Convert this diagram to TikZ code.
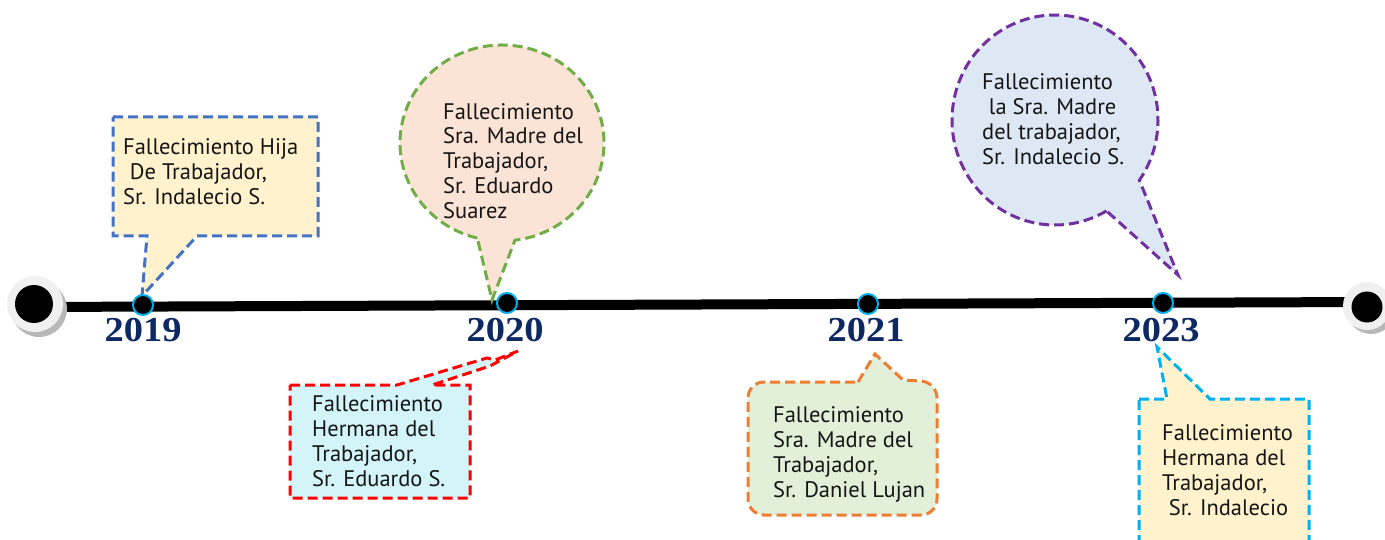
\documentclass[tikz,border=0pt]{standalone}
\usepackage{fontspec}
\setmainfont{PT Sans}
\newfontfamily\yearfont{Liberation Serif}
\definecolor{cblue}{HTML}{4472C4}
\definecolor{cgreen}{HTML}{70AD47}
\definecolor{cred}{HTML}{FF0000}
\definecolor{corange}{HTML}{ED7D31}
\definecolor{cpurple}{HTML}{7030A0}
\definecolor{ccyan}{HTML}{00B0F0}
\definecolor{fyellow}{HTML}{FFF2CC}
\definecolor{fpeach}{HTML}{FBE3D6}
\definecolor{fcyan}{HTML}{D3F5FA}
\definecolor{fgreen}{HTML}{E2F0D9}
\definecolor{fblue}{HTML}{DEE8F5}
\definecolor{navy}{HTML}{0E2862}
\definecolor{txtc}{HTML}{151515}
\begin{document}
\begin{tikzpicture}[x=1pt,y=-1pt,
  callout/.style={line width=3pt, dash pattern=on 10pt off 5pt},
  txt/.style={font=\fontsize{22.5}{25}\selectfont, text=txtc, align=left, inner sep=0pt, anchor=base west},
  year/.style={font=\yearfont\bfseries\fontsize{35}{35}\selectfont, text=navy, xscale=1.1, inner sep=0pt},
  marker/.style={circle, fill=black, draw=ccyan, line width=2pt, minimum size=20pt, inner sep=0pt},
]
\useasboundingbox (0,0) rectangle (1385,540);
\clip (0,0) rectangle (1385,540);

% timeline
\coordinate (lstart) at (35,307);
\coordinate (lend) at (1368,302);
\draw[line width=10pt] (lstart) -- (lend);

% end caps
\fill[black!28] (39,309) circle[radius=28];
\fill[black!6] (35,304) circle[radius=28];
\fill[black] (34,304) circle[radius=19];
\fill[black!28] (1371,310) circle[radius=24];
\fill[black!6] (1367,306) circle[radius=24];
\fill[black] (1367,307) circle[radius=15.5];

% callout 1 (2019 top)
\path[callout, draw=cblue, fill=fyellow] (113,117) -- (318,117) -- (318,236) -- (197,236) -- (142,296) -- (147,236) -- (113,236) -- cycle;
\node[txt] (t1) at (123,205) {Fallecimiento Hija\\\hspace*{0.3em}De Trabajador,\\Sr. Indalecio S.};

% callout 2 (2020 top)
\path[callout, draw=cgreen, fill=fpeach] (502,143) ++(104:102 and 98) arc[start angle=104, end angle=442.7, x radius=102, y radius=98] -- (492,300) -- cycle;
\node[txt] (t2) at (443,219) {Fallecimiento\\Sra. Madre del\\Trabajador,\\Sr. Eduardo\\Suarez};

% callout 3 (2020 bottom)
\path[callout, draw=cred, fill=fcyan] (290,385) -- (397,385) -- (487,358) -- (495,360) -- (518,351) -- (490,366) -- (432,385) -- (470,385) -- (470,498) -- (290,498) -- cycle;
\node[txt] (t3) at (312,486) {Fallecimiento\\Hermana del\\Trabajador,\\Sr. Eduardo S.};

% callout 4 (2021 bottom)
\path[callout, draw=corange, fill=fgreen] (858,382) -- (875,354) -- (903,380) [rounded corners=16] -- (937,382) -- (937,515) -- (748,515) -- (748,382) [sharp corners] -- cycle;
\node[txt] (t4) at (773,497) {Fallecimiento\\Sra. Madre del\\Trabajador,\\Sr. Daniel Lujan};

% callout 5 (2023 top)
\path[callout, draw=cpurple, fill=fblue] (1055,120) ++(60:103 and 105) arc[start angle=60, end angle=395, x radius=103, y radius=105] -- (1178,275) -- cycle;
\node[txt] (t5) at (982,165) {Fallecimiento\\\hspace*{0.3em}la Sra. Madre\\del trabajador,\\Sr. Indalecio S.};

% callout 6 (2023 bottom)
\path[callout, draw=ccyan, fill=fyellow] (1139,399) -- (1167,399) -- (1157,347) -- (1210,399) -- (1309,399) -- (1309,560) -- (1139,560) -- cycle;
\node[txt] (t6) at (1162,515) {Fallecimiento\\Hermana del\\Trabajador,\\\hspace*{0.3em}Sr. Indalecio};

% markers
\node[marker] (m2019) at (143,305) {};
\node[marker] (m2020) at (507,303) {};
\node[marker] (m2021) at (868,304) {};
\node[marker] (m2023) at (1163,303) {};

% years
\node[year] (y2019) at (143,330) {2019};
\node[year] (y2020) at (505,330) {2020};
\node[year] (y2021) at (866,330) {2021};
\node[year] (y2023) at (1161,330) {2023};
\end{tikzpicture}
\end{document}
